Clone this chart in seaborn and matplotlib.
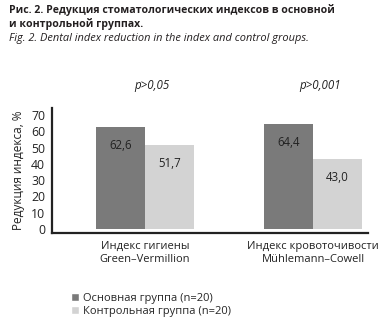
import matplotlib
matplotlib.use("Agg")
import matplotlib.pyplot as plt
import seaborn as sns
import pandas as pd

categories = ["Индекс гигиены\nGreen–Vermillion", "Индекс кровоточивости\nMühlemann–Cowell"]
groups = ["Основная группа (n=20)", "Контрольная группа (n=20)"]
main_vals = [62.6, 64.4]
ctrl_vals = [51.7, 43.0]
p_labels = ["p>0,05", "p>0,001"]
yticks = [0, 10, 20, 30, 40, 50, 60, 70]

df = pd.DataFrame({
    "cat": categories * 2,
    "group": [groups[0]] * 2 + [groups[1]] * 2,
    "val": main_vals + ctrl_vals,
})

sns.set_style("white")
plt.rcParams['font.family'] = ['Open Sans', 'DejaVu Sans']

fig = plt.figure(figsize=(3.85, 3.34), dpi=100)
ax = fig.add_axes([52/385, 1 - 233/334, (368-52)/385, (233-108)/334])

palette = ["#7a7a7a", "#d3d3d3"]
sns.barplot(data=df, x="cat", y="val", hue="group", palette=palette,
            ax=ax, width=0.58, saturation=1, legend=False, linewidth=0)

ax.set_ylim(-2.46, 74.3)
ax.set_xlim(-0.553, 1.327)
ax.set_yticks(yticks)
ax.set_yticklabels([str(t) for t in yticks], fontsize=8.8, color="#222222")
ax.tick_params(axis='y', length=0, pad=5)
ax.tick_params(axis='x', length=0, pad=6)
ax.set_xticks([0, 1])
ax.set_xticklabels(categories, fontsize=8, linespacing=1.25, color="#222222")
ax.set_xlabel("")
ax.set_ylabel("Редукция индекса, %", fontsize=8.5, labelpad=4, color="#222222")
for s in ["top", "right"]:
    ax.spines[s].set_visible(False)
ax.spines["left"].set_linewidth(1.6)
ax.spines["bottom"].set_linewidth(1.6)
ax.spines["left"].set_color("#222222")
ax.spines["bottom"].set_color("#222222")

for cont in ax.containers:
    for bar in cont:
        h = bar.get_height()
        ax.text(bar.get_x() + bar.get_width() / 2, h - 11.5,
                f"{h:.1f}".replace(".", ","), ha="center", va="center",
                fontsize=8.3, color="#222222")

for i, p in enumerate(p_labels):
    ax.text(i + 0.04, 88, p, ha="center", va="center", fontsize=8.3,
            style="italic", color="#222222", clip_on=False)

fig.text(0.023, 1 - 10/334, "Рис. 2. Редукция стоматологических индексов в основной",
         fontsize=7.6, fontweight="bold", va="center", color="#231f20")
fig.text(0.023, 1 - 24/334, "и контрольной группах.",
         fontsize=7.6, fontweight="bold", va="center", color="#231f20")
fig.text(0.023, 1 - 38/334, "Fig. 2. Dental index reduction in the index and control groups.",
         fontsize=7.9, style="italic", va="center", color="#231f20")

from matplotlib.patches import Patch
handles = [Patch(facecolor=palette[0]), Patch(facecolor=palette[1])]
fig.legend(handles, groups, loc="upper left", bbox_to_anchor=(65/385, 1 - 287/334),
           frameon=False, fontsize=8, handlelength=0.8, handleheight=0.8,
           handletextpad=0.3, labelspacing=0.2, borderpad=0)

fig.savefig("out.png", dpi=100)
